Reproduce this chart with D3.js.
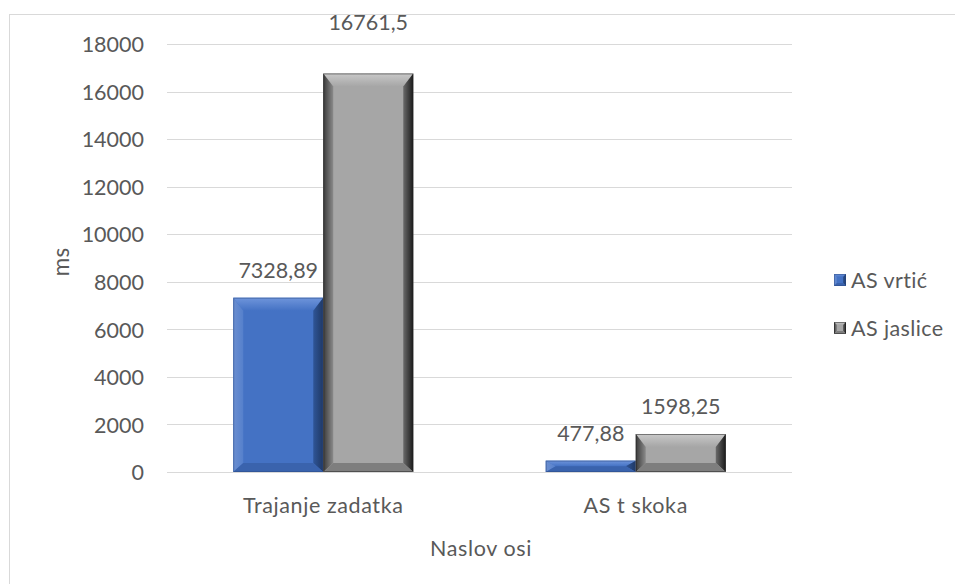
<!DOCTYPE html>
<html><head><meta charset="utf-8">
<script src="https://cdn.jsdelivr.net/npm/d3@7"></script>
<style>body{margin:0;background:#fff}svg{display:block}text{font-family:Lato,"Open Sans",sans-serif;fill:#595959}</style>
</head><body><svg id="c" width="955" height="584"></svg>
<script>
const categories = ["Trajanje zadatka", "AS t skoka"];
const seriesNames = ["AS vrtić", "AS jaslice"];
const vrtic = [7328.89, 477.88];
const jaslice = [16761.5, 1598.25];
const valueLabels = [["7328,89", "477,88"], ["16761,5", "1598,25"]];
const yTicks = [0, 2000, 4000, 6000, 8000, 10000, 12000, 14000, 16000, 18000];
const yTitle = "ms";
const xTitle = "Naslov osi";

const seriesValues = [vrtic, jaslice];
const svg = d3.select("#c");
const m = {l: 167, r: 792, t: 44, b: 472};
const fs = 21.5;

svg.append("rect").attr("x", 9.5).attr("y", 14.5).attr("width", 960).attr("height", 600)
  .attr("fill", "none").attr("stroke", "#D9D9D9").attr("stroke-width", 1);

const y = d3.scaleLinear().domain([0, 18000]).range([m.b, m.t]);
const x0 = d3.scaleBand().domain(categories).range([m.l, m.r]).padding(0);
const x1 = d3.scaleBand().domain(seriesNames).range([0, x0.bandwidth()]).paddingInner(0).paddingOuter(0.736);

svg.append("g").selectAll("line").data(yTicks).join("line")
  .attr("x1", m.l).attr("x2", m.r).attr("y1", d => Math.round(y(d)) + 0.5).attr("y2", d => Math.round(y(d)) + 0.5)
  .attr("stroke", "#D9D9D9").attr("stroke-width", 1);

const yAxis = d3.axisLeft(y).tickValues(yTicks).tickSize(0).tickPadding(0).tickFormat(d => String(d));
const ga = svg.append("g").attr("transform", `translate(144,0)`).call(yAxis);
ga.select(".domain").remove();
ga.selectAll("text").attr("font-size", fs).attr("font-family", "Lato").attr("fill", "#595959").attr("dy", "0.36em");

const xa = d3.axisBottom(x0).tickSize(0).tickPadding(0);
const gx = svg.append("g").attr("transform", `translate(0,${m.b})`).call(xa);
gx.select(".domain").remove();
gx.selectAll("text").attr("font-size", fs).attr("font-family", "Lato").attr("fill", "#595959")
  .attr("dy", 0).attr("y", 41).attr("letter-spacing", "0.6px");

svg.append("text").attr("transform", `translate(69,262) rotate(-90)`).attr("text-anchor", "middle")
  .attr("font-size", fs + 1).text(yTitle);
svg.append("text").attr("x", 481).attr("y", 556).attr("text-anchor", "middle").attr("font-size", fs)
  .attr("letter-spacing", "0.6px").text(xTitle);

const pal = [
  {main: "#4472C4", top: "#6F95DB", left: "#5580CC", leftOut: "#6C8FD0", right: "#2F5597", rightOut: "#1F3864", bot: "#3A63AD", edge: "#2a4a85"},
  {main: "#A6A6A6", top: "#C9C9C9", left: "#8A8A8A", leftOut: "#3A3A3A", right: "#6A6A6A", rightOut: "#1A1A1A", bot: "#7E7E7E", edge: "#222"}
];

const defs = svg.append("defs");
pal.forEach((c, i) => {
  const gl = defs.append("linearGradient").attr("id", "gl" + i).attr("x1", 0).attr("x2", 1).attr("y1", 0).attr("y2", 0);
  gl.append("stop").attr("offset", 0).attr("stop-color", c.leftOut);
  gl.append("stop").attr("offset", 1).attr("stop-color", c.left);
  const gr = defs.append("linearGradient").attr("id", "gr" + i).attr("x1", 0).attr("x2", 1).attr("y1", 0).attr("y2", 0);
  gr.append("stop").attr("offset", 0).attr("stop-color", c.right);
  gr.append("stop").attr("offset", 1).attr("stop-color", c.rightOut);
  const gt = defs.append("linearGradient").attr("id", "gt" + i).attr("x1", 0).attr("x2", 0).attr("y1", 0).attr("y2", 1);
  gt.append("stop").attr("offset", 0).attr("stop-color", c.top);
  gt.append("stop").attr("offset", 1).attr("stop-color", c.main);
});

function bevelBar(g, x, yTop, w, h, c, i, sz) {
  const bx = Math.min(sz[0], w / 2), bt = Math.min(sz[1], h / 2), bb = Math.min(sz[2], h / 2);
  const x2 = x + w, yB = yTop + h;
  g.append("rect").attr("x", x).attr("y", yTop).attr("width", w).attr("height", h).attr("fill", c.main);
  const poly = (pts, f) => g.append("polygon").attr("points", pts.map(p => p.join(",")).join(" ")).attr("fill", f);
  poly([[x, yTop], [x2, yTop], [x2 - bx, yTop + bt], [x + bx, yTop + bt]], `url(#gt${i})`);
  poly([[x, yTop], [x + bx, yTop + bt], [x + bx, yB - bb], [x, yB]], `url(#gl${i})`);
  poly([[x2, yTop], [x2, yB], [x2 - bx, yB - bb], [x2 - bx, yTop + bt]], `url(#gr${i})`);
  poly([[x, yB], [x + bx, yB - bb], [x2 - bx, yB - bb], [x2, yB]], c.bot);
  g.append("rect").attr("x", x + 0.5).attr("y", yTop + 0.5).attr("width", Math.max(0, w - 1)).attr("height", Math.max(0, h - 1))
    .attr("fill", "none").attr("stroke", c.edge).attr("stroke-opacity", 0.5);
}

const bars = svg.append("g");
seriesNames.forEach((s, si) => {
  categories.forEach((cat, ci) => {
    const v = seriesValues[si][ci];
    const bx = x0(cat) + x1(s), w = x1.bandwidth();
    bevelBar(bars, bx, y(v), w, y(0) - y(v), pal[si], si, [10, 13, 9]);
    let ly = y(v) - 20;
    if (ly < m.t + 16) ly = m.t - 14;
    svg.append("text").attr("x", bx + w / 2).attr("y", ly).attr("text-anchor", "middle")
      .attr("font-size", fs).text(valueLabels[si][ci]);
  });
});

const lg = svg.append("g");
seriesNames.forEach((s, i) => {
  const ly = 280 + i * 48;
  bevelBar(lg.append("g"), 834, ly - 6, 12, 12, pal[i], i, [3, 3, 3]);
  lg.append("text").attr("x", 851).attr("y", ly).attr("dy", "0.36em").attr("font-size", fs)
    .attr("letter-spacing", "0.4px").text(s);
});
</script></body></html>
